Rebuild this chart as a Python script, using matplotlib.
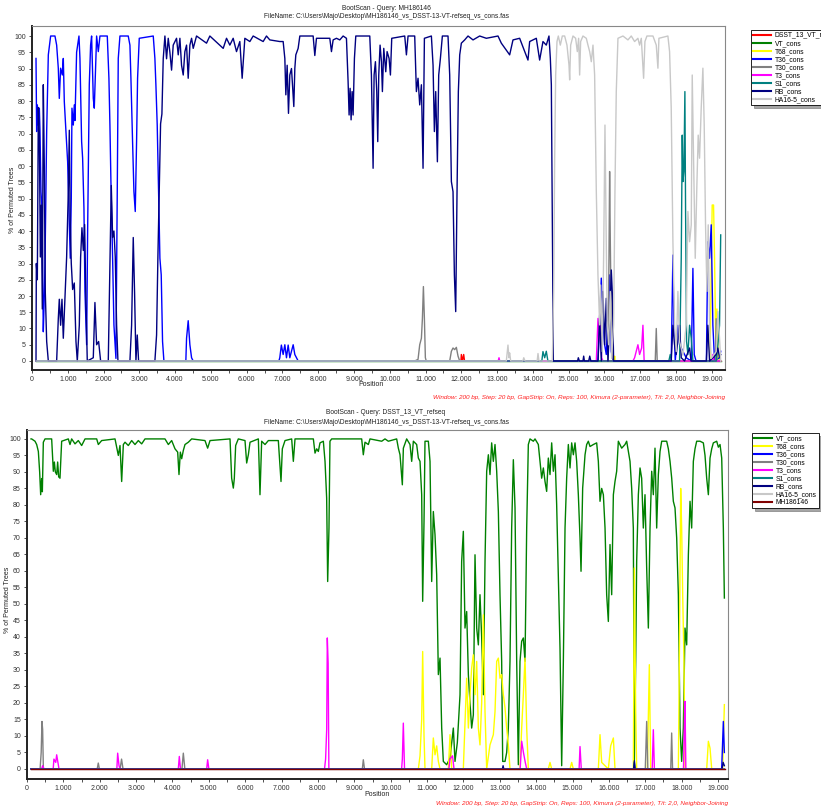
import matplotlib
matplotlib.use('Agg')
import matplotlib.pyplot as plt
from matplotlib.ticker import MultipleLocator, FuncFormatter

plt.rcParams['font.family'] = ['Liberation Sans', 'DejaVu Sans']

# ---------------- top scan: query MH186146 (position, % permuted trees) ----------------
top_dsst = [(110, 0), (11990, 0), (12001, 2), (12030, 0), (12066, 2), (12090, 0), (19250, 0)]
top_vt = [(110, 0), (19250, 0)]
top_t68 = [(110, 0), (16270, 0), (16285, 1.5), (16300, 0), (18950, 0), (19012, 48), (19050, 48),
           (19078, 31.6), (19110, 7), (19143, 16), (19180, 1), (19250, 0)]
top_t36 = [(112, 93.1), (130, 70.6), (149, 78.8), (177, 72.6), (205, 77.8), (223, 71), (251, 52.1),
           (279, 47), (316, 9), (344, 20), (363, 29.6), (410, 70.6), (456, 94.2), (521, 100), (642, 100),
           (689, 97.2), (735, 90.1), (763, 80.8), (800, 90.1), (847, 88), (875, 93.1), (903, 79.8),
           (949, 70.6), (996, 61.3), (1043, 41.9), (1070, 31.6), (1098, 50), (1117, 77.8), (1154, 72.6),
           (1182, 78.8), (1201, 74), (1247, 95), (1313, 100), (1340, 93.1), (1387, 67.5), (1415, 62.4),
           (1452, 47), (1480, 21.4), (1527, 5), (1555, 40), (1601, 85), (1638, 97.2), (1666, 100),
           (1713, 80.8), (1741, 77.8), (1806, 100), (1853, 95.2), (1899, 100), (2104, 100), (2150, 87),
           (2178, 72.6), (2206, 55.2), (2253, 31.6), (2290, 11.1), (2346, 0.8), (2383, 52.1), (2411, 93.1),
           (2458, 100), (2690, 100), (2737, 97.2), (2765, 87), (2811, 67.5), (2849, 52.1), (2886, 46),
           (2923, 67.5), (2951, 87), (2998, 99.3), (3389, 100), (3435, 93.1), (3463, 85), (3500, 72.6),
           (3538, 52.1), (3575, 31.6), (3612, 26.5), (3649, 6), (3687, 0),
           (4300, 0), (4320, 7), (4366, 12.4), (4413, 5), (4460, 1), (4506, 0), (6900, 0), (6926, 1),
           (6970, 4.9), (7020, 2), (7067, 5), (7113, 1), (7160, 4.9), (7206, 1), (7300, 5), (7346, 2),
           (7440, 0), (15820, 0), (15866, 11), (15912, 25.5), (15959, 12), (16005, 5), (16052, 2),
           (16100, 15), (16145, 26.5), (16190, 3), (16240, 0), (17867, 0), (17914, 32.6), (17942, 11),
           (17980, 0), (18054, 11), (18100, 5), (18286, 1), (18427, 0), (18473, 28.5), (18510, 2),
           (18560, 0), (18850, 0), (18891, 36.7), (18938, 31.6), (18985, 41.9), (19031, 11), (19078, 0),
           (19217, 1), (19250, 3)]
top_t30 = [(110, 0), (10697, 0), (10790, 0.5), (10837, 5), (10884, 7), (10912, 13), (10940, 22.9),
           (10968, 13), (10995, 1), (11020, 0), (11675, 0), (11722, 3), (11768, 4), (11815, 3.5),
           (11861, 4.2), (11908, 1.5), (11955, 0), (16099, 0), (16127, 31.6), (16145, 58.3), (16164, 37),
           (16192, 11), (16240, 0), (17420, 0), (17449, 10), (17475, 0), (19100, 0), (19124, 13),
           (19150, 0), (19250, 0)]
top_t3 = [(110, 0), (13030, 0), (13053, 1), (13075, 0), (15773, 0), (15819, 13.1), (15847, 6),
          (15884, 11), (15922, 1), (15960, 0), (16797, 0), (16843, 1), (16936, 5), (16983, 2),
          (17040, 4), (17076, 11), (17110, 0), (19000, 0), (19031, 2), (19060, 0), (19250, 0)]
top_s1 = [(110, 0), (14250, 0), (14282, 2.9), (14330, 1), (14375, 3), (14420, 0), (17800, 0),
          (17840, 2), (17880, 0), (18100, 0), (18147, 31.6), (18175, 69.5), (18194, 55.2), (18221, 58.3),
          (18249, 82.9), (18268, 46), (18296, 6), (18333, 2), (18380, 11), (18427, 7), (18473, 0),
          (19124, 0), (19171, 5), (19217, 11), (19250, 38.8)]
top_rb = [(112, 0), (121, 30), (149, 25), (177, 78), (205, 70), (233, 32), (261, 48), (288, 16),
          (316, 85), (344, 60), (372, 21), (410, 6), (456, 0), (689, 0), (735, 13), (763, 19), (800, 11),
          (838, 19), (875, 7), (921, 19), (968, 32), (1015, 52), (1043, 71), (1070, 42), (1098, 30),
          (1136, 22), (1182, 24), (1229, 6), (1266, 0), (1322, 11), (1359, 32), (1396, 41), (1434, 34),
          (1471, 42), (1508, 18), (1545, 0), (1713, 1), (1759, 18), (1806, 5), (1862, 6), (1918, 0),
          (2132, 0), (2178, 29), (2216, 54), (2253, 38), (2290, 40), (2327, 32), (2365, 11), (2402, 0),
          (2737, 0), (2784, 11), (2830, 38), (2867, 21), (2905, 0), (2942, 8), (2979, 0), (3435, 0),
          (3482, 8), (3519, 32), (3556, 52), (3594, 73), (3631, 76), (3668, 93), (3715, 100),
          (3761, 93), (3808, 99.3), (3854, 95), (3901, 89.5), (3947, 97.2), (4040, 99.3), (4087, 94.2),
          (4134, 99.3), (4180, 91), (4227, 88), (4273, 95.2), (4320, 97.2), (4366, 87), (4413, 97.2),
          (4460, 99.3), (4506, 96.2), (4599, 100), (4878, 97.8), (4971, 100), (5344, 96.2), (5437, 99.3),
          (5530, 97.2), (5623, 99.3), (5716, 95.2), (5809, 98.3), (5874, 87), (5949, 99.3), (6089, 98.3),
          (6182, 100), (6461, 98.3), (6554, 100), (6647, 98.8), (6926, 98.3), (7020, 98.3), (7067, 93.1),
          (7095, 81.9), (7132, 91), (7169, 76.2), (7206, 88), (7253, 90), (7281, 85), (7318, 78.3),
          (7346, 90), (7374, 94.2), (7439, 96.2), (7486, 100), (7858, 100), (7905, 94), (7951, 99.3),
          (8324, 99.3), (8370, 95.2), (8417, 98.8), (8510, 99.3), (8603, 98.8), (8696, 100), (8789, 99.3),
          (8835, 86), (8863, 75.7), (8891, 83.9), (8919, 74.2), (8947, 82.9), (8975, 75.7), (9012, 93.1),
          (9050, 100), (9441, 100), (9487, 88), (9534, 59.3), (9562, 88), (9599, 92.1), (9636, 82.9),
          (9664, 67.5), (9692, 88), (9729, 97.2), (9767, 92.1), (9794, 82.9), (9832, 96.2), (9888, 89),
          (9925, 95.2), (9981, 93.1), (10018, 88), (10055, 99.3), (10418, 100), (10465, 94.2),
          (10511, 100), (10697, 100), (10744, 82.9), (10790, 87), (10837, 78.8), (10884, 85),
          (10930, 59.3), (10968, 99.3), (11163, 100), (11210, 91), (11247, 70.6), (11284, 82.9),
          (11331, 61.3), (11368, 88), (11415, 93.1), (11470, 100), (11628, 100), (11675, 88),
          (11722, 55.2), (11768, 52.1), (11806, 26.5), (11843, 15.2), (11880, 52.1), (11917, 82.9),
          (11955, 94.2), (12001, 97.8), (12094, 98.8), (12187, 100), (12327, 98.8), (12513, 100),
          (12699, 99.3), (13025, 100), (13118, 97.8), (13351, 94.2), (13444, 98.8), (13630, 99.3),
          (13863, 92.6), (13910, 98.3), (14096, 99.3), (14189, 92.6), (14282, 98.3), (14375, 97.2),
          (14450, 100), (14488, 93.1), (14516, 85), (14544, 41.9), (14572, 0),
          (15250, 0), (15270, 1), (15300, 0), (15400, 0), (15420, 1.5), (15440, 0), (15560, 0),
          (15590, 1.5), (15620, 0), (15820, 0), (15866, 14.2), (15912, 0), (15959, 21.4), (16005, 5),
          (16052, 19.3), (16099, 0), (16145, 11), (16192, 28), (16220, 21), (16257, 0), (17867, 0),
          (17914, 11), (17961, 5), (18007, 2), (18100, 11), (18147, 1), (18240, 0), (18380, 4),
          (18420, 0), (18850, 0), (18891, 11), (18938, 0), (19124, 2), (19171, 4), (19217, 1), (19250, 2)]
top_ha16 = [(110, 0), (13258, 0), (13304, 4.9), (13330, 1), (13350, 2.5), (13380, 0), (13720, 0),
            (13745, 1), (13780, 0), (14120, 0), (14143, 2.3), (14170, 0), (14544, 0), (14581, 21.4),
            (14609, 62.4), (14637, 88), (14674, 98.3), (14711, 100), (14767, 97.2), (14823, 100),
            (14888, 100), (14953, 97.2), (15009, 91.1), (15028, 86.5), (15056, 97.2), (15121, 100),
            (15195, 99.3), (15242, 95.2), (15279, 99.3), (15307, 88), (15335, 98.3), (15400, 100),
            (15493, 99.3), (15540, 97.2), (15587, 95.2), (15633, 92.1), (15680, 97.2), (15726, 88),
            (15773, 52.1), (15819, 26.5), (15866, 11.1), (15894, 23.4), (15940, 2.9), (15977, 31.6),
            (16015, 72.6), (16052, 35.7), (16080, 11.1), (16117, 5), (16164, 21.4), (16201, 0.8),
            (16257, 11.1), (16294, 52.1), (16331, 82.9), (16378, 99.3), (16518, 100), (16657, 98.8),
            (16750, 100), (16843, 98.3), (16936, 99.3), (16983, 97.2), (17030, 99.3), (17095, 87),
            (17132, 98.3), (17188, 100), (17356, 100), (17449, 97.2), (17495, 90.1), (17523, 99.3),
            (17774, 100), (17821, 95.2), (17867, 77.8), (17914, 36.7), (17961, 11.1), (18007, 2.9),
            (18054, 21.4), (18100, 6), (18194, 1.8), (18286, 11.1), (18333, 46), (18380, 36.7),
            (18427, 41.9), (18454, 88), (18491, 62.4), (18538, 31.6), (18584, 54.2), (18621, 69.5),
            (18659, 62.4), (18705, 77.8), (18752, 90.1), (18789, 72.6), (18826, 41.9), (18864, 21.4),
            (18901, 41.9), (18938, 11.1), (18985, 0.8), (19124, 2.9), (19171, 15.2), (19217, 7),
            (19250, 0)]

# ---------------- bottom scan: query DSST_13_VT_refseq ----------------
bot_vt = [(110, 100), (128, 100), (220, 99.3), (266, 98.3), (312, 96.2), (348, 90), (376, 83.1),
          (403, 88), (422, 84), (449, 99), (495, 100), (678, 100), (724, 90.2), (752, 93), (779, 90),
          (816, 89.2), (843, 93), (871, 88.5), (907, 88.1), (953, 99.3), (1136, 100), (1182, 98.3),
          (1228, 100), (1320, 98.5), (1411, 99.5), (1503, 98), (1595, 100), (1916, 100), (1961, 98.3),
          (2053, 99.5), (2420, 100), (2511, 95), (2557, 98), (2603, 87.1), (2649, 98.3), (2695, 99),
          (2786, 98), (2878, 99.5), (2969, 98.3), (3061, 99.5), (3153, 98.5), (3244, 100), (3794, 100),
          (3886, 98.3), (3978, 99.5), (4069, 97), (4143, 96), (4179, 89.2), (4216, 96), (4253, 94),
          (4298, 96.5), (4344, 98.3), (4436, 99), (4528, 100), (4894, 99.5), (4967, 97.2), (5032, 99.5),
          (5582, 100), (5627, 88.1), (5673, 85.1), (5700, 88), (5737, 98), (5810, 100), (5994, 99.5),
          (6040, 92.7), (6086, 95.2), (6132, 99), (6361, 100), (6406, 83.1), (6452, 99.3), (6544, 98.3),
          (6636, 99.5), (6910, 99.5), (6956, 92), (6984, 87.1), (7020, 97), (7094, 99.5), (7277, 100),
          (7323, 93.2), (7369, 100), (7873, 100), (7919, 95.7), (7965, 97), (8010, 96.2), (8056, 98.8),
          (8148, 99.3), (8194, 93.2), (8239, 82.1), (8267, 56.8), (8303, 73), (8330, 99.3), (8377, 100),
          (9202, 100), (9247, 95.2), (9293, 99), (9385, 98.3), (9431, 100), (9752, 99.3), (9843, 100),
          (9935, 99.3), (10164, 100), (10210, 97.2), (10256, 95.2), (10320, 86.1), (10348, 97.2),
          (10439, 100), (10531, 98.3), (10577, 93.2), (10623, 99.3), (10714, 98.3), (10760, 94.2),
          (10806, 93.2), (10852, 83.1), (10879, 50.8), (10916, 75), (10943, 99.3), (11035, 99.3),
          (11081, 93.2), (11127, 56.8), (11172, 78), (11218, 71), (11264, 58.9), (11310, 28.6),
          (11356, 33.6), (11402, 12.4), (11447, 2.3), (11539, 1.3), (11631, 3.3), (11722, 12.4),
          (11768, 2.3), (11832, 8), (11906, 22.5), (11951, 62.9), (11997, 72), (12043, 42.7),
          (12089, 47.7), (12135, 28.6), (12180, 20), (12226, 12.4), (12272, 16.4), (12318, 64.9),
          (12364, 42.7), (12410, 37.6), (12455, 52.8), (12501, 40), (12547, 22.5), (12593, 62.9),
          (12639, 90.2), (12685, 95.2), (12730, 89.2), (12776, 98.8), (12822, 93.2), (12868, 98.3),
          (12914, 90.2), (12960, 78), (13005, 52.8), (13051, 32.6), (13079, 2.3), (13143, 2.3),
          (13189, 5), (13234, 12.4), (13280, 32.6), (13326, 73), (13372, 93.7), (13418, 79.1),
          (13464, 32.6), (13509, 1.3), (13555, 32.6), (13601, 38.7), (13647, 39.7), (13693, 32.6),
          (13739, 73), (13784, 98.3), (13830, 100), (13922, 99.3), (13968, 100), (14059, 98.3),
          (14105, 93.2), (14151, 88.1), (14197, 91.2), (14243, 87.1), (14288, 84.1), (14334, 94.2),
          (14380, 89.2), (14426, 98.8), (14472, 90.2), (14518, 95.2), (14563, 80.1), (14609, 57.8),
          (14655, 36.6), (14701, 1), (14747, 32.6), (14793, 73), (14838, 88.1), (14884, 98.3),
          (14930, 91.2), (14976, 98.8), (15022, 95.2), (15068, 98.8), (15113, 93.2), (15159, 83.1),
          (15205, 70), (15233, 59.9), (15278, 85.1), (15343, 95.2), (15388, 98.3), (15434, 99.3),
          (15480, 97.7), (15572, 98.3), (15663, 98.8), (15709, 93.2), (15755, 81.1), (15801, 85),
          (15847, 83.1), (15893, 73), (15938, 52.8), (15984, 44.7), (16030, 68), (16076, 52.8),
          (16122, 83.1), (16167, 87.1), (16213, 90.2), (16259, 99.3), (16351, 97.2), (16442, 98.3),
          (16488, 99.3), (16580, 93.2), (16626, 85), (16671, 73), (16699, 2.3), (16736, 32.6),
          (16763, 62.9), (16809, 83.1), (16855, 91.2), (16900, 88.1), (16946, 73), (16992, 83.1),
          (17038, 60.9), (17084, 42.7), (17130, 73), (17176, 90.2), (17221, 83.1), (17267, 97.2),
          (17313, 73), (17359, 89.2), (17405, 96.2), (17451, 99.3), (17588, 99.3), (17634, 97),
          (17680, 93.2), (17726, 88.1), (17771, 81.1), (17817, 79.1), (17863, 70), (17909, 52.8),
          (17955, 12.4), (18000, 2.3), (18046, 12.4), (18092, 42.7), (18138, 37.6), (18184, 64.9),
          (18230, 81.1), (18275, 73), (18321, 93.2), (18367, 97), (18413, 99.3), (18505, 99.3),
          (18596, 98.8), (18642, 95), (18688, 88.1), (18734, 83.1), (18780, 94.2), (18826, 97),
          (18871, 98.8), (18963, 99.3), (19009, 97.5), (19055, 98.3), (19101, 94.2), (19146, 73),
          (19174, 51.8)]
bot_t68 = [(110, 0), (10760, 0), (10806, 4), (10852, 15), (10879, 35.6), (10916, 10), (10943, 0),
           (11127, 0), (11172, 9.4), (11218, 4.3), (11264, 7), (11310, 2.3), (11356, 0), (11585, 0),
           (11631, 10.4), (11677, 0), (11997, 0), (12043, 14), (12089, 27.5), (12135, 12.4), (12180, 22.5),
           (12226, 30.6), (12272, 34.6), (12318, 22.5), (12364, 32.6), (12410, 12.4), (12455, 7.3),
           (12501, 20), (12547, 46.7), (12593, 17.4), (12639, 0), (12730, 7.3), (12822, 10.4),
           (12868, 17.4), (12914, 32.6), (12960, 33.6), (13005, 27.5), (13051, 28.6), (13097, 22.5),
           (13143, 18.5), (13189, 12.4), (13234, 7.3), (13280, 0), (13555, 0), (13601, 12.4),
           (13647, 22.5), (13693, 33.6), (13739, 12.4), (13784, 0), (14334, 0), (14380, 2), (14426, 0),
           (14930, 0), (14976, 2), (15022, 0), (15709, 0), (15755, 10.4), (15801, 2), (15984, 0),
           (16048, 7), (16122, 9.4), (16167, 0), (16671, 0), (16699, 60.9), (16736, 17.4), (16763, 0),
           (17056, 0), (17111, 31.6), (17148, 0), (17909, 0), (17936, 32.6), (17973, 85), (18000, 73),
           (18028, 52.8), (18064, 32.6), (18092, 0), (18688, 0), (18734, 8.4), (18780, 6.3), (18826, 0),
           (19128, 0), (19174, 19.5)]
bot_t36 = [(110, 0), (19100, 0), (19146, 14.4), (19174, 5)]
bot_t30 = [(110, 0), (360, 0), (390, 5), (412, 14.4), (430, 12), (450, 0), (1930, 0), (1960, 1.8),
           (1990, 0), (2560, 0), (2600, 3), (2640, 0), (4260, 0), (4298, 4.8), (4340, 0), (9220, 0),
           (9247, 2.8), (9280, 0), (17000, 0), (17038, 14.4), (17070, 0), (17700, 0), (17725, 10.9),
           (17750, 0), (19174, 0)]
bot_t3 = [(110, 0), (400, 0), (430, 1), (470, 0), (720, 0), (740, 3), (790, 2), (816, 4.3), (850, 2),
          (880, 0), (2470, 0), (2493, 4.8), (2530, 1), (2560, 0), (4160, 0), (4188, 3.8), (4220, 0),
          (4940, 0), (4967, 2.8), (5000, 0), (8180, 0), (8210, 3), (8240, 12), (8257, 39.7), (8280, 32),
          (8300, 0), (10300, 0), (10320, 3), (10347, 13.9), (10380, 0), (11600, 0), (11631, 3),
          (11700, 4), (11740, 0), (13560, 0), (13601, 8.4), (13650, 5), (13700, 2), (13740, 0),
          (15180, 0), (15205, 6.8), (15240, 0), (17190, 0), (17221, 11.9), (17250, 0), (18050, 0),
          (18070, 11), (18092, 20.5), (18115, 0), (19174, 0)]
bot_s1 = [(110, 0), (16680, 0), (16699, 2), (16720, 0), (19174, 0)]
bot_rb = [(110, 0), (13070, 0), (13090, 1), (13110, 0), (16680, 0), (16699, 2.5), (16720, 0),
          (19110, 0), (19140, 2), (19174, 1)]
bot_ha16 = [(110, 0), (19174, 0)]
bot_mh = [(110, 0), (19190, 0)]

top_names = ['DSST_13_VT_refseq', 'VT_cons', 'T68_cons', 'T36_cons', 'T30_cons', 'T3_cons',
             'S1_cons', 'RB_cons', 'HA16-5_cons']
top_colors = ['#FF0000', '#008000', '#FFFF00', '#0000FF', '#808080', '#FF00FF', '#008080',
              '#000080', '#C8C8C8']
top_data = [top_dsst, top_vt, top_t68, top_t36, top_t30, top_t3, top_s1, top_rb, top_ha16]

bot_names = ['VT_cons', 'T68_cons', 'T36_cons', 'T30_cons', 'T3_cons', 'S1_cons', 'RB_cons',
             'HA16-5_cons', 'MH186146']
bot_colors = ['#008000', '#FFFF00', '#0000FF', '#808080', '#FF00FF', '#008080', '#000080',
              '#C8C8C8', '#800000']
bot_data = [bot_vt, bot_t68, bot_t36, bot_t30, bot_t3, bot_s1, bot_rb, bot_ha16, bot_mh]

footnote = ('Window: 200 bp, Step: 20 bp, GapStrip: On, Reps: 100, Kimura (2-parameter), '
            'T/t: 2,0, Neighbor-Joining')

W, H = 821, 810


def fx(px):
    return px / W


def fy(py):
    return 1 - py / H


def pos_fmt(v, p):
    if v == 0:
        return '0'
    return f'{int(v):,}'.replace(',', '.')


def draw_panel(rect, data, names, colors, xmax, ylim, leg_xy, title, filename, title_y, foot_y,
               foot_x, pos_xy, ylab_xy):
    ax = fig.add_axes(rect)
    handles = []
    for series, name, col in zip(data, names, colors):
        xs = [p for p, v in series]
        ys = [v for p, v in series]
        ln, = ax.plot(xs, ys, color=col, lw=1.0, label=name)
        handles.append(ln)
    ax.set_xlim(0, xmax)
    ax.set_ylim(*ylim)
    ax.xaxis.set_major_locator(MultipleLocator(1000))
    ax.xaxis.set_minor_locator(MultipleLocator(500))
    ax.xaxis.set_major_formatter(FuncFormatter(pos_fmt))
    ax.set_yticks(range(0, 101, 5))
    ax.tick_params(labelsize=5, length=2.5, width=0.6, pad=2, colors='#333333')
    ax.tick_params(which='minor', length=2.5, width=0.6, colors='#333333')
    for s in ['top', 'right']:
        ax.spines[s].set_color('#888888')
        ax.spines[s].set_linewidth(0.8)
    for s in ['left', 'bottom']:
        ax.spines[s].set_color('#222222')
        ax.spines[s].set_linewidth(1.4)
    leg = fig.legend(handles, names, loc='upper left', bbox_to_anchor=(fx(leg_xy[0]), fy(leg_xy[1])),
                     fontsize=4.9, frameon=True, fancybox=False, shadow=True, edgecolor='black',
                     handlelength=2.6, labelspacing=0.14, borderpad=0.35, handletextpad=0.5,
                     borderaxespad=0)
    leg.get_frame().set_linewidth(0.6)
    for ln in leg.get_lines():
        ln.set_linewidth(1.5)
    fig.text(fx(386), fy(title_y), title, ha='center', va='center', fontsize=4.8, color='#222222')
    fig.text(fx(386), fy(title_y + 9), filename, ha='center', va='center', fontsize=4.8,
             color='#222222')
    fig.text(fx(foot_x), fy(foot_y), footnote, ha='right', va='center', fontsize=4.6,
             style='italic', color='#FF2020')
    fig.text(fx(pos_xy[0]), fy(pos_xy[1]), 'Position', ha='center', va='center', fontsize=5,
             color='#222222')
    fig.text(fx(ylab_xy[0]), fy(ylab_xy[1]), '% of Permuted Trees', ha='center', va='center',
             fontsize=5, rotation=90, color='#222222')
    return ax


fig = plt.figure(figsize=(8.21, 8.10), dpi=100)

fname = 'FileName: C:\\Users\\Majo\\Desktop\\MH186146_vs_DSST-13-VT-refseq_vs_cons.fas'

draw_panel([fx(32), fy(370), fx(725 - 32), (370 - 26) / H], top_data, top_names, top_colors,
           19370, (-2.77, 103.08), (751, 30), 'BootScan - Query: MH186146', fname, 8, 397, 725,
           (371, 385), (12, 200))

draw_panel([fx(27), fy(779), fx(728 - 27), (779 - 430) / H], bot_data, bot_names, bot_colors,
           19274, (-3.03, 102.7), (752, 433), 'BootScan - Query: DSST_13_VT_refseq', fname, 413, 803,
           728, (377, 795), (8, 600))

fig.savefig('out.png', dpi=100)
